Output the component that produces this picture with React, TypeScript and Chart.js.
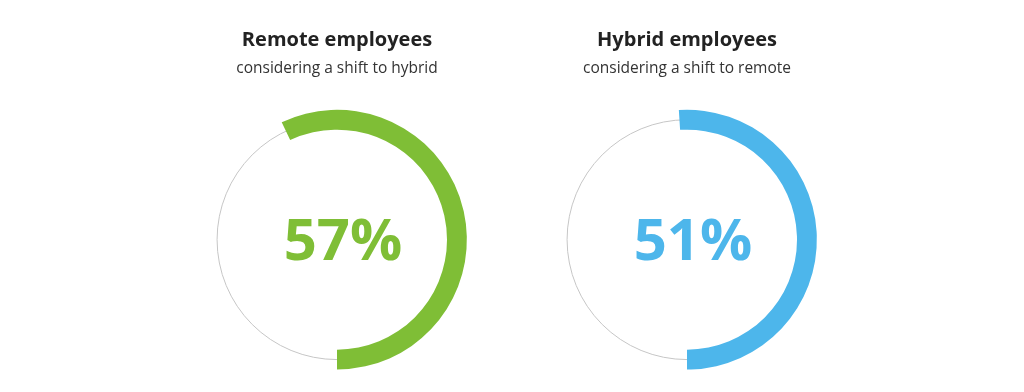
import React, { useEffect, useRef } from 'react';
import { Chart, registerables } from 'chart.js';

Chart.register(...registerables);

const groups = ['Remote employees', 'Hybrid employees'];
const subtitles = ['considering a shift to hybrid', 'considering a shift to remote'];
const shares = [57, 51];
const colors = ['#7fbe36', '#4db6eb'];

Chart.defaults.font.family = "'Open Sans', 'Noto Sans', sans-serif";

function Gauge({ idx }: { idx: number }) {
  const ref = useRef<HTMLCanvasElement | null>(null);

  useEffect(() => {
    const value = shares[idx];
    const color = colors[idx];

    const ringPlugin = {
      id: 'ringAndLabel',
      beforeDatasetsDraw(chart: any) {
        const arc: any = chart.getDatasetMeta(0).data[0];
        if (!arc) return;
        const { x, y, innerRadius, outerRadius } = arc.getProps(
          ['x', 'y', 'innerRadius', 'outerRadius'],
          true
        );
        const ctx = chart.ctx;
        ctx.save();
        ctx.beginPath();
        ctx.arc(x, y, (innerRadius + outerRadius) / 2, 0, Math.PI * 2);
        ctx.strokeStyle = '#c6c6c6';
        ctx.lineWidth = 1;
        ctx.stroke();
        ctx.restore();
      },
      afterDatasetsDraw(chart: any) {
        const arc: any = chart.getDatasetMeta(0).data[0];
        if (!arc) return;
        const { x, y } = arc.getProps(['x', 'y'], true);
        const ctx = chart.ctx;
        ctx.save();
        ctx.font = "bold 58px 'Open Sans', 'Noto Sans', sans-serif";
        ctx.fillStyle = color;
        ctx.textAlign = 'center';
        ctx.textBaseline = 'middle';
        ctx.fillText(`${value}%`, x + 6, y + 4);
        ctx.restore();
      },
    };

    const chart = new Chart(ref.current as HTMLCanvasElement, {
      type: 'doughnut',
      data: {
        labels: [groups[idx], 'Other'],
        datasets: [
          {
            data: [value, 100 - value],
            backgroundColor: [color, 'rgba(0,0,0,0)'],
            borderWidth: 0,
            hoverOffset: 0,
          },
        ],
      },
      options: {
        responsive: false,
        animation: false,
        events: [],
        rotation: 180 - value * 3.6,
        cutout: 110,
        layout: { padding: { left: 45, right: 45, top: 0, bottom: 8.5 } },
        plugins: {
          legend: { display: false },
          tooltip: { enabled: false },
          title: {
            display: true,
            text: groups[idx],
            color: '#222222',
            font: { size: 20, weight: 'bold', lineHeight: 1.2 },
            padding: { top: 20, bottom: 0 },
          },
          subtitle: {
            display: true,
            text: subtitles[idx],
            color: '#333333',
            font: { size: 15.5, weight: 'normal', lineHeight: 1.2 },
            padding: { top: 7, bottom: 32.2 },
          },
        },
      } as any,
      plugins: [ringPlugin],
    });

    return () => chart.destroy();
  }, [idx]);

  return (
    <canvas
      ref={ref}
      width={350}
      height={370}
      style={{ display: 'block', width: 350, height: 370 }}
    />
  );
}

export default function App() {
  return (
    <div style={{ display: 'flex', justifyContent: 'center', width: '100%' }}>
      {shares.map((_, i) => (
        <Gauge key={i} idx={i} />
      ))}
    </div>
  );
}
